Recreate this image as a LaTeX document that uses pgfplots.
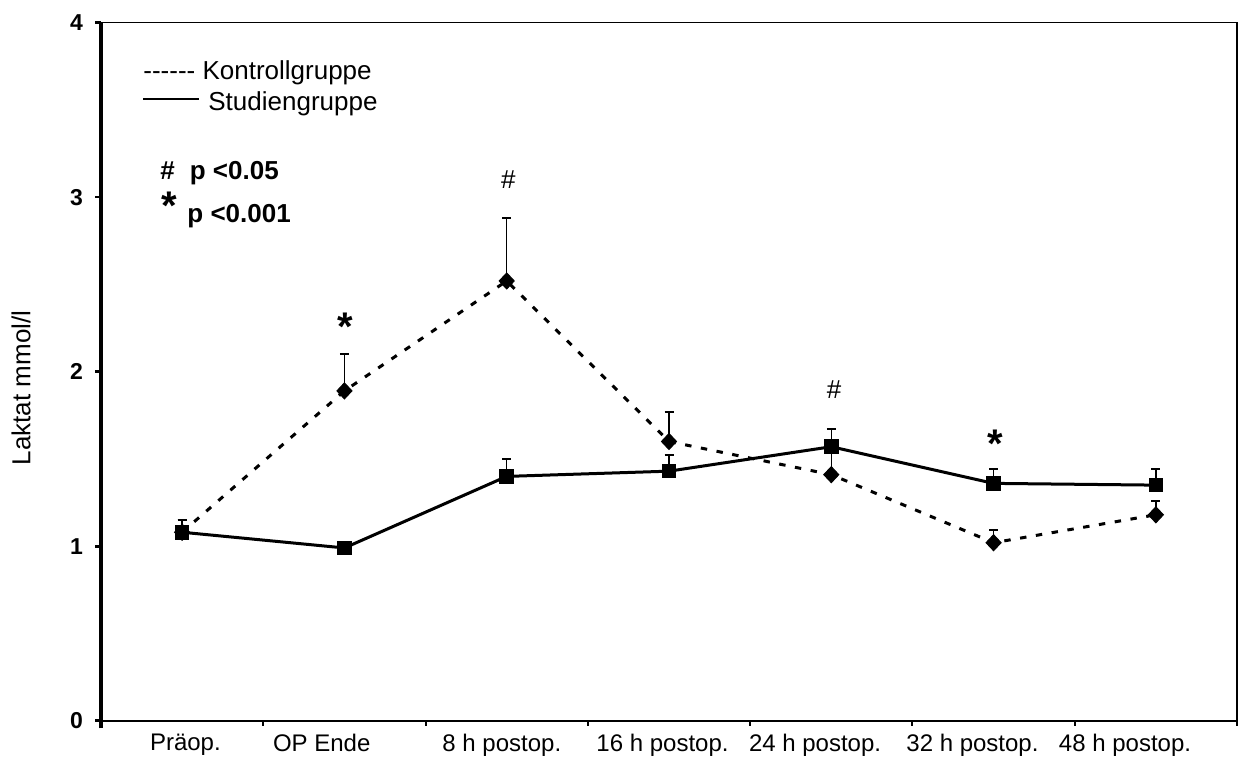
\documentclass[border=0pt]{standalone}
\usepackage{fontspec}
\setmainfont{Liberation Sans}
\newfontfamily\plainfont{Liberation Sans}[Ligatures=TeXOff]
\usepackage{pgfplots}
\usepackage{pgfplotstable}
\pgfplotsset{compat=1.18}

\pgfplotstableread{
x k kerr s serr
0 1.08 0.07 1.08 0.07
1 1.89 0.21 0.99 0.02
2 2.52 0.36 1.40 0.10
3 1.60 0.17 1.43 0.09
4 1.41 0.15 1.57 0.10
5 1.02 0.07 1.36 0.08
6 1.18 0.08 1.35 0.095
}\datatable

\begin{document}
\begin{tikzpicture}
\begin{axis}[
  width=568pt, height=349pt, scale only axis,
  xmin=-0.5, xmax=6.5, ymin=0, ymax=4,
  axis line style={draw=none},
  ytick={0,1,2,3,4}, ytick align=outside, ytick pos=left,
  xtick={0.02,0.86,1.97,2.96,3.9,4.87,5.81},
  xticklabels={Präop., OP Ende, 8 h postop., 16 h postop., 24 h postop., 32 h postop., 48 h postop.},
  minor xtick={-0.5,0.5,...,6.5},
  xtick pos=bottom, xtick align=outside,
  major x tick style={draw=none},
  minor x tick style={draw=black, line width=1pt},
  minor tick length=2.5pt,
  major tick length=3pt,
  y tick style={draw=black, line width=1.3pt},
  /pgf/number format/assume math mode=true,
  yticklabel style={font=\bfseries\fontsize{11.5}{13}\selectfont, xshift=-2.5pt},
  xticklabel style={font=\fontsize{12}{14}\selectfont},
  ylabel={Laktat mmol/l},
  ylabel style={font=\fontsize{13}{15}\selectfont, at={(rel axis cs:-0.0704,0.4766)}, anchor=center},
  clip=false,
]
\addplot[black, line width=1.5pt, dash pattern=on 3.2pt off 4.8pt,
  mark=diamond*, mark size=4pt, mark options={solid, line width=0.5pt, xscale=1.25},
  error bars/.cd, y dir=plus, y explicit,
  error bar style={line width=0.75pt, solid},
  error mark options={rotate=90, line width=1pt, mark size=2.25pt}]
  table[x=x, y=k, y error=kerr] {\datatable};
\addplot[black, line width=1.5pt,
  mark=square*, mark size=3.4pt, mark options={solid, line width=0.5pt},
  error bars/.cd, y dir=plus, y explicit,
  error bar style={line width=0.75pt, solid},
  error mark options={rotate=90, line width=1pt, mark size=2.25pt}]
  table[x=x, y=s, y error=serr] {\datatable};

\draw[line width=2pt] (rel axis cs:0,-0.011) -- (rel axis cs:0,1);
\draw[line width=1.2pt] (rel axis cs:0,0) -- (rel axis cs:1,0);
\draw[line width=0.6pt] (rel axis cs:0,1) -- (rel axis cs:1,1) -- (rel axis cs:1,0);

% legend
\node[anchor=base west, inner sep=0pt, font=\plainfont\fontsize{13}{15}\selectfont] at (axis cs:-0.2412,3.672) {------ Kontrollgruppe};
\node[anchor=base west, inner sep=0pt, font=\fontsize{13}{15}\selectfont] at (axis cs:-0.2412,3.499) {\rule[5pt]{28pt}{1pt}\hspace{4.5pt}Studiengruppe};
\node[anchor=base west, inner sep=0pt, font=\bfseries\fontsize{13}{15}\selectfont] at (axis cs:-0.1364,3.0986) {\#\hspace{7.5pt}p <0.05};
\node[anchor=base west, inner sep=0pt, font=\bfseries\fontsize{13}{15}\selectfont] at (axis cs:0.030,2.8522) {p <0.001};
\node[inner sep=0pt, font=\bfseries\fontsize{20}{20}\selectfont] at (axis cs:-0.081,2.95) {*};

% significance marks
\node[inner sep=0pt, font=\bfseries\fontsize{20}{20}\selectfont] at (axis cs:1.007,2.255) {*};
\node[inner sep=0pt, font=\fontsize{13}{13}\selectfont] at (axis cs:2.01,3.099) {\#};
\node[inner sep=0pt, font=\fontsize{13}{13}\selectfont] at (axis cs:4.017,1.895) {\#};
\node[inner sep=0pt, font=\bfseries\fontsize{20}{20}\selectfont] at (axis cs:5.011,1.588) {*};

\coordinate (bl) at (rel axis cs:-0.08891,-0.0563);
\coordinate (tr) at (rel axis cs:1.00088,1.03252);
\end{axis}
\pgfresetboundingbox
\path[use as bounding box] (bl) rectangle (tr);
\end{tikzpicture}
\end{document}
